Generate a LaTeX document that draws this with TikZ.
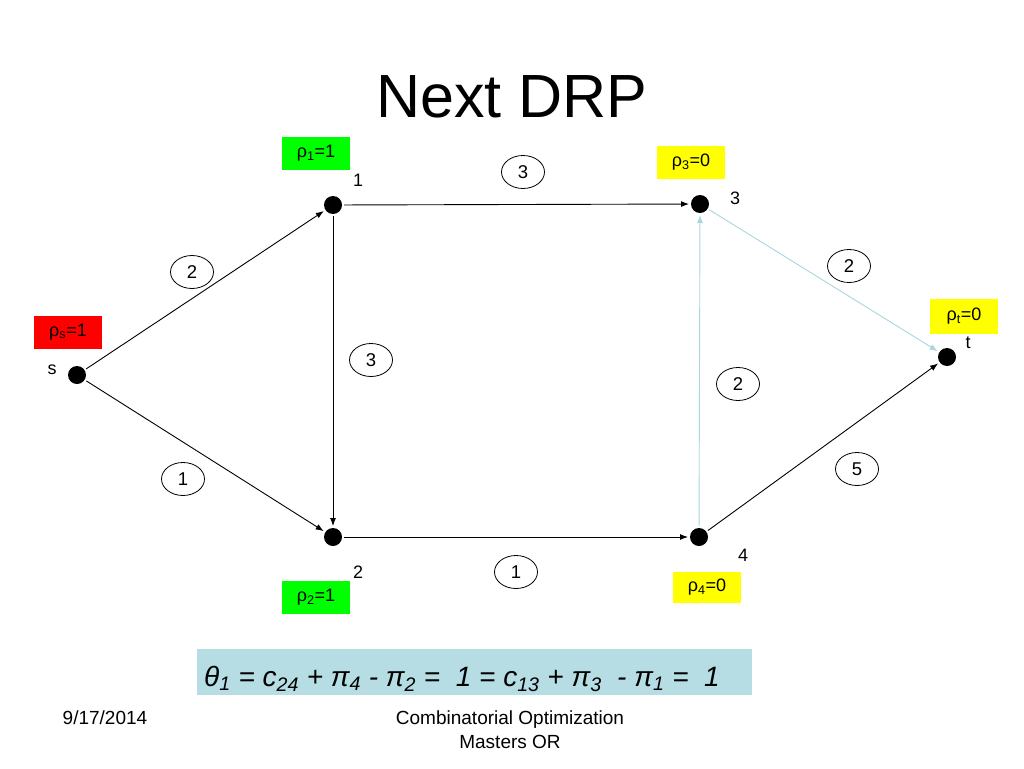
\documentclass[tikz,border=0pt]{standalone}
\usepackage{fontspec}
\setmainfont{Liberation Sans}
\usetikzlibrary{arrows.meta,shapes.geometric}
\definecolor{edgeblue}{RGB}{168,214,220}
\definecolor{boxblue}{RGB}{183,221,228}
\definecolor{pgreen}{RGB}{0,255,0}
\definecolor{pyellow}{RGB}{255,255,0}
\definecolor{pred}{RGB}{255,0,0}
\tikzset{
  dot/.style={circle,fill=black,minimum size=18pt,inner sep=0pt,outer sep=2pt},
  weight/.style={ellipse,draw=black,line width=0.8pt,minimum width=43pt,minimum height=33pt,inner sep=0pt,font=\fontsize{18.5}{21}\selectfont},
  potbox/.style={rectangle,minimum width=68pt,minimum height=33pt,inner sep=0pt,font=\fontsize{18}{21}\selectfont},
  vlabel/.style={inner sep=0pt,font=\fontsize{18}{21}\selectfont},
  arc/.style={line width=0.9pt,-{Latex[length=8pt,width=6pt]}},
  lightarc/.style={arc,draw=edgeblue,-{Latex[length=8pt,width=6pt,fill=edgeblue]}}
}
\begin{document}
\begin{tikzpicture}[x=1pt,y=-1pt]
\useasboundingbox (0,0) rectangle (1024,768);
% title
\node[anchor=base,inner sep=0pt,font=\fontsize{61}{70}\selectfont] (title) at (512,117) {Next DRP};
% vertices
\node[dot] (s) at (77,375) {};
\node[dot] (n1) at (333,205) {};
\node[dot] (n2) at (333,537) {};
\node[dot] (n3) at (700,204) {};
\node[dot] (n4) at (699,537) {};
\node[dot] (t) at (947,357) {};
% vertex names
\node[vlabel] (ls) at (52,370) {s};
\node[vlabel] (l1) at (358,180) {1};
\node[vlabel] (l2) at (358,572) {2};
\node[vlabel] (l3) at (735,198) {3};
\node[vlabel] (l4) at (743,555) {4};
\node[vlabel] (lt) at (968,343) {t};
% potentials
\node[potbox,fill=pred] (ps) at (68,332) {ρ\textsubscript{s}=1};
\node[potbox,fill=pgreen] (p1) at (316,153) {ρ\textsubscript{1}=1};
\node[potbox,fill=pgreen] (p2) at (316,597) {ρ\textsubscript{2}=1};
\node[potbox,fill=pyellow] (p3) at (691,162) {ρ\textsubscript{3}=0};
\node[potbox,fill=pyellow,minimum height=31pt] (p4) at (707,587) {ρ\textsubscript{4}=0};
\node[potbox,fill=pyellow,minimum height=35pt] (pt) at (964,316) {ρ\textsubscript{t}=0};
% arcs
\draw[arc] (s) -- (n1);
\draw[arc] (s) -- (n2);
\draw[arc] (n1) -- (n3);
\draw[arc] (n1) -- (n2);
\draw[arc] (n2) -- (n4);
\draw[arc] (n4) -- (t);
\draw[lightarc] (n4) -- (n3);
\draw[lightarc] (n3) -- (t);
% weights
\node[weight] (w1) at (192,272) {2};
\node[weight] (w2) at (183,479) {1};
\node[weight] (w3) at (523,172) {3};
\node[weight] (w4) at (371,360) {3};
\node[weight] (w5) at (516,572) {1};
\node[weight] (w6) at (849,266) {2};
\node[weight] (w7) at (738,384) {2};
\node[weight] (w8) at (857,469) {5};
% formula
\node[rectangle,fill=boxblue,minimum width=555pt,minimum height=46pt,inner sep=0pt] (fbox) at (474,672) {};
\node[anchor=base,inner sep=0pt,font=\fontsize{28}{32}\selectfont\itshape] (formula) at (462,686)
  {θ\textsubscript{1} = c\textsubscript{24} + π\textsubscript{4} - π\textsubscript{2} =\ \ 1 = c\textsubscript{13} + π\textsubscript{3}\ \ - π\textsubscript{1} =\ \ 1};
% footer
\node[inner sep=0pt,font=\fontsize{19}{22}\selectfont] (date) at (105,718) {9/17/2014};
\node[inner sep=0pt,align=center,font=\fontsize{19}{24}\selectfont] (foot) at (510,730) {Combinatorial Optimization\\Masters OR};
\end{tikzpicture}
\end{document}
